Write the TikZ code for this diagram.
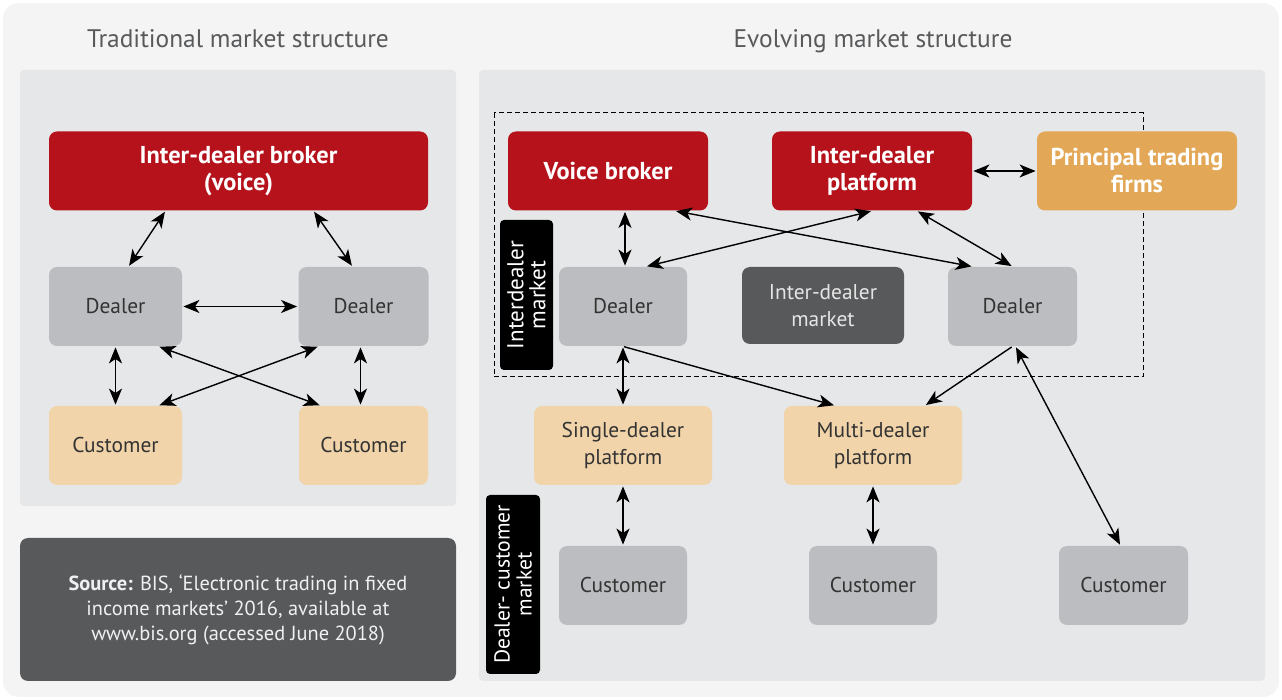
\documentclass[tikz,border=0pt]{standalone}
\usepackage{fontspec}
\setmainfont{PT Sans}
\usetikzlibrary{arrows.meta,positioning,calc}

\definecolor{bgpage}{HTML}{F4F4F4}
\definecolor{panelgray}{HTML}{E6E7E8}
\definecolor{brokerred}{HTML}{B5121B}
\definecolor{dealergray}{HTML}{BCBDC0}
\definecolor{custtan}{HTML}{F1D4A9}
\definecolor{ptforange}{HTML}{E3A857}
\definecolor{boxdark}{HTML}{58595B}
\definecolor{textdark}{HTML}{333333}

\tikzset{
  box/.style={rounded corners=4pt, inner sep=2pt, align=center, minimum height=39.5pt,
    font=\fontsize{10.7}{13.5}\selectfont, text=textdark},
  redbox/.style={box, fill=brokerred, text=white, font=\fontsize{12.2}{13.5}\selectfont\bfseries},
  dealerbox/.style={box, fill=dealergray, minimum width=65pt},
  custbox/.style={box, fill=custtan},
  idmbox/.style={box, fill=boxdark, text=white!90!black},
  tag/.style={rounded corners=2pt, fill=black, text=white, rotate=90, align=center,
    font=\fontsize{11.5}{11}\selectfont, inner sep=1pt},
  heading/.style={text=boxdark, anchor=base, font=\fontsize{12.7}{14}\selectfont},
  link/.style={<->, >={Stealth[length=8pt,width=6.5pt,inset=2.2pt]}, line width=0.7pt,
    shorten <=0.5pt, shorten >=0.5pt},
  oneway/.style={link, <-, -{Stealth[length=8pt,width=6.5pt,inset=2.2pt]}}
}

\begin{document}
\begin{tikzpicture}[x=0.5pt,y=-0.5pt]
    \useasboundingbox (0,0) rectangle (1282,700);
    \fill[bgpage, rounded corners=8pt] (3,3) rectangle (1279,697);
    \fill[panelgray, rounded corners=2pt] (20,70) rectangle (456,506);
    \fill[panelgray, rounded corners=2pt] (479,70) rectangle (1265,681);
    \node[heading] (htrad) at (238,48) {Traditional market structure};
    \node[heading] (hevol) at (873,48) {Evolving market structure};

    % traditional
    \node[redbox, minimum width=189.5pt] (idb) at (238.5,171) {Inter-dealer broker\\(voice)};
    \node[dealerbox, minimum width=66.5pt] (dl1) at (115.5,306.5) {Dealer};
    \node[dealerbox] (dl2) at (363.5,306.5) {Dealer};
    \node[custbox, minimum width=66.5pt] (cu1) at (115.5,445.5) {Customer};
    \node[custbox, minimum width=64.5pt] (cu2) at (363.5,445.5) {Customer};
    \draw[link] ($(idb.south)+(-73,0)$) -- ($(dl1.north)+(13,0)$);
    \draw[link] ($(idb.south)+(75,0)$) -- ($(dl2.north)+(-11,0)$);
    \draw[link] (dl1) -- (dl2);
    \draw[link] (dl1) -- (cu1);
    \draw[link] ($(dl2.south)+(-3,0)$) -- ($(cu2.north)+(-3,0)$);
    \draw[link] ($(dl1.south)+(43,0)$) -- ($(cu2.north)+(-43,0)$);
    \draw[link] ($(dl2.south)+(-45,0)$) -- ($(cu1.north)+(43,0)$);

    \node[box, fill=boxdark, text=white!94!black, minimum width=218pt, minimum height=71.5pt,
      font=\fontsize{10.2}{12.5}\selectfont] (src) at (238,609.5)
      {\textbf{Source:} BIS, ‘Electronic trading in fixed\\income markets’ 2016, available at\\www.bis.org (accessed June 2018)};

    % evolving
    \draw[dashed, dash pattern=on 2.5pt off 1.5pt, line width=0.5pt] (494,113) rectangle (1143,377);
    \node[redbox, minimum width=100pt] (vb) at (608,171) {Voice broker};
    \node[redbox, minimum width=100pt] (idp) at (872,171) {Inter-dealer\\platform};
    \node[redbox, fill=ptforange, minimum width=100pt] (ptf) at (1137,171) {Principal trading\\firms};
    \node[tag, minimum width=75pt, minimum height=26.5pt] (tagid) at (526.5,295) {Interdealer\\market};
    \node[dealerbox, minimum width=64pt] (dr1) at (623,306.5) {Dealer};
    \node[idmbox, minimum width=81pt, minimum height=38.5pt] (idm) at (823,305.5) {Inter-dealer\\market};
    \node[dealerbox, minimum width=64.5pt] (dr2) at (1012.5,306.5) {Dealer};
    \node[custbox, minimum width=89pt] (sdp) at (623,445.5) {Single-dealer\\platform};
    \node[custbox, minimum width=89pt] (mdp) at (873,445.5) {Multi-dealer\\platform};
    \node[tag, minimum width=89.5pt, minimum height=27pt, font=\fontsize{10.8}{11}\selectfont] (tagdc) at (513,584.5) {Dealer- customer\\market};
    \node[dealerbox, minimum width=64pt] (cu3) at (623,585.5) {Customer};
    \node[dealerbox, minimum width=64pt] (cu4) at (873,585.5) {Customer};
    \node[dealerbox, minimum width=64.5pt] (cu5) at (1123.5,585.5) {Customer};

    \draw[link] ($(vb.south)+(17,0)$) -- ($(dr1.north)+(2,0)$);
    \draw[link] (idp.south) -- ($(dr1.north)+(23,0)$);
    \draw[link] ($(vb.south)+(67,0)$) -- ($(dr2.north)+(-40,0)$);
    \draw[link] ($(idp.south)+(45,0)$) -- (dr2.north);
    \draw[link] (idp) -- (ptf);
    \draw[link] (dr1) -- (sdp);
    \draw[oneway] (dr1.south) -- ($(mdp.north)+(-38,0)$);
    \draw[oneway] (dr2.south) -- ($(mdp.north)+(52,0)$);
    \draw[link] ($(dr2.south)+(3,0)$) -- ($(cu5.north)+(-3,0)$);
    \draw[link] (sdp) -- (cu3);
    \draw[link] (mdp) -- (cu4);
\end{tikzpicture}
\end{document}
